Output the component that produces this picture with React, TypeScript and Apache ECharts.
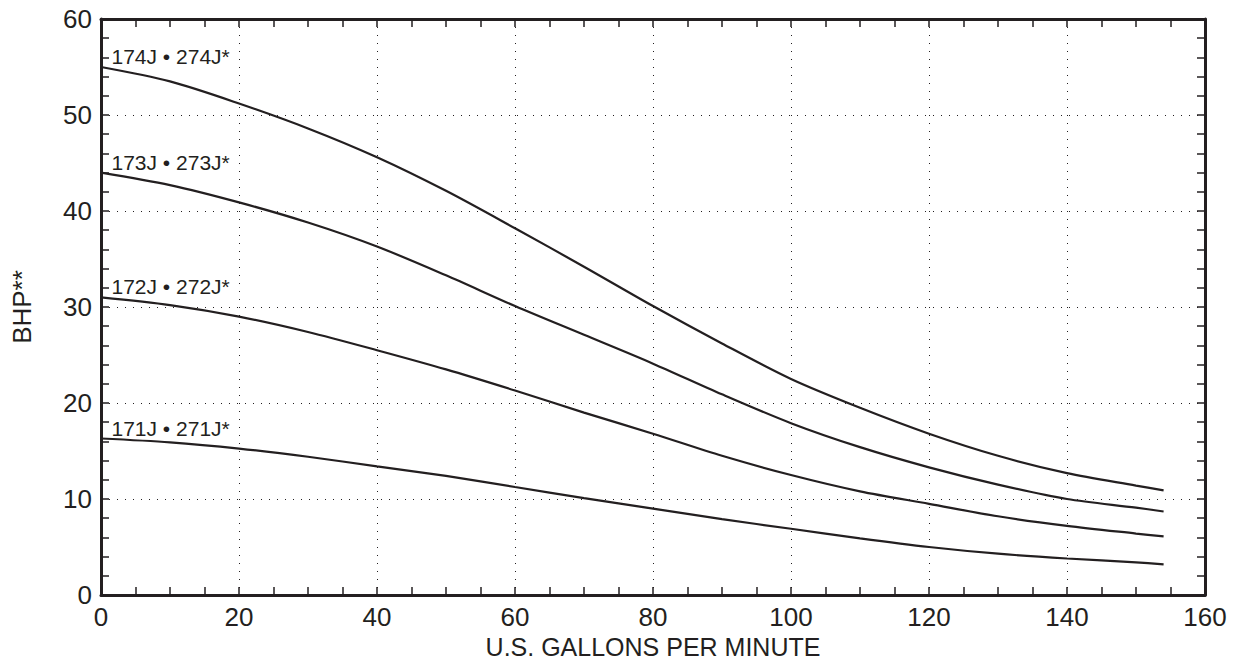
import React, { useEffect, useRef } from "react";
import * as echarts from "echarts";

const gpm = [0, 10, 20, 30, 40, 50, 60, 70, 80, 90, 100, 110, 120, 130, 140, 150, 154];
const bhp174 = [55.0, 53.5, 51.2, 48.6, 45.6, 42.1, 38.2, 34.2, 30.1, 26.2, 22.5, 19.5, 16.8, 14.5, 12.7, 11.4, 10.9];
const bhp173 = [44.0, 42.7, 40.9, 38.8, 36.3, 33.3, 30.1, 27.1, 24.1, 20.9, 17.9, 15.4, 13.3, 11.5, 10.0, 9.1, 8.7];
const bhp172 = [31.0, 30.2, 29.0, 27.4, 25.5, 23.5, 21.3, 19.0, 16.8, 14.5, 12.5, 10.8, 9.5, 8.2, 7.2, 6.4, 6.1];
const bhp171 = [16.3, 15.9, 15.25, 14.4, 13.4, 12.4, 11.25, 10.1, 9.0, 7.9, 6.9, 5.9, 5.0, 4.3, 3.8, 3.4, 3.2];
const seriesNames = ["174J • 274J*", "173J • 273J*", "172J • 272J*", "171J • 271J*"];
const seriesValues = [bhp174, bhp173, bhp172, bhp171];

const INK = "#231f20";
const FONT = "Liberation Sans, Arial, Helvetica, sans-serif";

export default function App() {
  const ref = useRef<HTMLDivElement>(null);
  useEffect(() => {
    if (!ref.current) return;
    const chart = echarts.init(ref.current, null, { renderer: "svg" });
    const tickStyle = { color: INK, width: 1.5 };
    const mkX = (pos: string, main: boolean) => ({
      type: "value",
      position: pos,
      min: 0,
      max: 160,
      interval: 20,
      axisLine: { show: true, onZero: false, lineStyle: { color: INK, width: 3 } },
      axisTick: { show: true, inside: true, length: 8, lineStyle: tickStyle },
      minorTick: { show: true, splitNumber: 4, length: 8, lineStyle: tickStyle },
      axisLabel: main
        ? { show: true, color: INK, fontSize: 26, fontFamily: FONT, margin: 9 }
        : { show: false },
      splitLine: main
        ? { show: true, lineStyle: { color: INK, width: 1, type: [1, 7] } }
        : { show: false },
      ...(main
        ? {
            name: "U.S. GALLONS PER MINUTE",
            nameLocation: "middle",
            nameGap: 37,
            nameTextStyle: { color: INK, fontSize: 25, fontFamily: FONT },
          }
        : {}),
    });
    const mkY = (pos: string, main: boolean) => ({
      type: "value",
      position: pos,
      min: 0,
      max: 60,
      interval: 10,
      axisLine: { show: true, onZero: false, lineStyle: { color: INK, width: 3 } },
      axisTick: { show: true, inside: true, length: 8, lineStyle: tickStyle },
      minorTick: { show: true, splitNumber: 5, length: 8, lineStyle: tickStyle },
      axisLabel: main
        ? { show: true, color: INK, fontSize: 26, fontFamily: FONT, margin: 9 }
        : { show: false },
      splitLine: main
        ? { show: true, lineStyle: { color: INK, width: 1, type: [1, 7] } }
        : { show: false },
      ...(main
        ? {
            name: "BHP**",
            nameLocation: "middle",
            nameGap: 66,
            nameRotate: 90,
            nameTextStyle: { color: INK, fontSize: 26, fontFamily: FONT },
          }
        : {}),
    });
    chart.setOption({
      animation: false,
      backgroundColor: "#ffffff",
      grid: {
        left: 101,
        right: 36,
        top: 19,
        bottom: 67,
        containLabel: false,
        outerBoundsMode: "none",
      },
      xAxis: [mkX("bottom", true), mkX("top", false)],
      yAxis: [mkY("left", true), mkY("right", false)],
      series: seriesValues.map((vals, i) => ({
        name: seriesNames[i],
        type: "line",
        xAxisIndex: 0,
        yAxisIndex: 0,
        smooth: 0.3,
        showSymbol: false,
        lineStyle: { color: INK, width: 2.2 },
        data: gpm.map((x, j) => [x, vals[j]]),
        markPoint: {
          symbol: "circle",
          symbolSize: 1,
          itemStyle: { color: "rgba(0,0,0,0)" },
          label: {
            show: true,
            position: [11, -10],
            align: "left",
            verticalAlign: "middle",
            color: INK,
            fontSize: 21,
            fontFamily: FONT,
            formatter: seriesNames[i],
          },
          data: [{ coord: [gpm[0], vals[0]] }],
        },
      })),
    });
    return () => chart.dispose();
  }, []);
  return (
    <div
      ref={ref}
      style={{ position: "fixed", left: 0, top: 0, width: 1241, height: 662 }}
    />
  );
}
